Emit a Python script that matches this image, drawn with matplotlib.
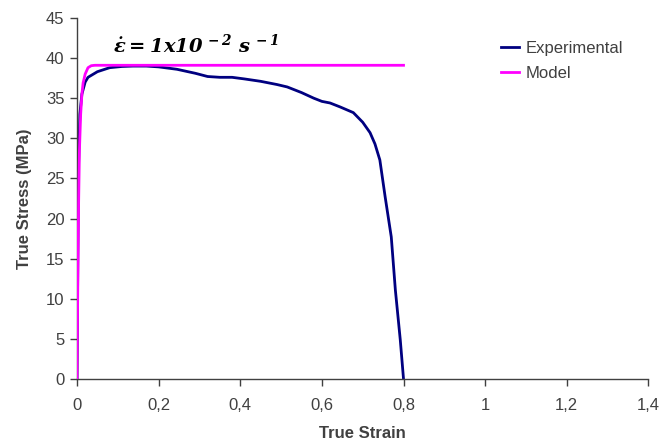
import matplotlib
matplotlib.use("Agg")
import matplotlib.pyplot as plt

plt.rcParams['font.family'] = ['Liberation Sans', 'DejaVu Sans']
plt.rcParams['mathtext.fontset'] = 'custom'
plt.rcParams['mathtext.rm'] = 'DejaVu Serif:italic:bold'
plt.rcParams['mathtext.it'] = 'DejaVu Serif:italic:bold'
plt.rcParams['mathtext.bf'] = 'DejaVu Serif:italic:bold'

exp_strain = [0.0, 0.002, 0.004, 0.007, 0.012, 0.02, 0.027, 0.05, 0.08, 0.11, 0.137,
              0.17, 0.2, 0.245, 0.29, 0.32, 0.35, 0.38, 0.41, 0.45, 0.49, 0.515,
              0.55, 0.58, 0.60, 0.62, 0.645, 0.677, 0.70, 0.718, 0.73, 0.742, 0.755,
              0.77, 0.78, 0.792, 0.80]
exp_stress = [0.0, 15.0, 27.0, 33.0, 35.5, 37.0, 37.6, 38.3, 38.8, 38.95, 39.0,
              39.0, 38.9, 38.6, 38.1, 37.7, 37.6, 37.6, 37.4, 37.1, 36.7, 36.4,
              35.7, 35.0, 34.6, 34.4, 33.9, 33.2, 32.0, 30.7, 29.3, 27.3, 22.7,
              17.7, 11.1, 4.9, 0.0]

mod_strain = [0.0, 0.002, 0.004, 0.006, 0.009, 0.012, 0.015, 0.02, 0.027, 0.035,
              0.044, 0.06, 0.1, 0.2, 0.4, 0.6, 0.8]
mod_stress = [0.0, 12.0, 22.0, 28.5, 33.0, 35.5, 36.9, 38.0, 38.8, 39.05,
              39.1, 39.1, 39.1, 39.1, 39.1, 39.1, 39.1]

xticks = [0, 0.2, 0.4, 0.6, 0.8, 1.0, 1.2, 1.4]
xtick_labels = ['0', '0,2', '0,4', '0,6', '0,8', '1', '1,2', '1,4']
yticks = [0, 5, 10, 15, 20, 25, 30, 35, 40, 45]

fig = plt.figure(figsize=(6.66, 4.43), dpi=100)
ax = fig.add_axes([0.1156, 0.1445, 0.858, 0.815])

ax.plot(exp_strain, exp_stress, color='#000080', lw=2, label='Experimental', zorder=2)
ax.plot(mod_strain, mod_stress, color='#FF00FF', lw=2, label='Model', zorder=3)

ax.set_xlim(0, 1.4)
ax.set_ylim(0, 45)
ax.set_xticks(xticks)
ax.set_xticklabels(xtick_labels)
ax.set_yticks(yticks)

gray = '#404040'
for s in ['top', 'right']:
    ax.spines[s].set_visible(False)
for s in ['left', 'bottom']:
    ax.spines[s].set_color(gray)
    ax.spines[s].set_linewidth(1.0)
ax.tick_params(axis='both', colors=gray, labelcolor='#404040', labelsize=12,
               length=5, width=1, direction='out')
ax.tick_params(axis='x', pad=9)
ax.tick_params(axis='y', pad=4)

ax.set_xlabel('True Strain', fontsize=12, fontweight='bold', color='#404040', labelpad=9)
ax.set_ylabel('True Stress (MPa)', fontsize=12, fontweight='bold', color='#404040', labelpad=10)

ax.text(0.088, 41.6, r'$\dot{\epsilon}=1x10^{\,-2}\ s^{\,-1}$', fontsize=14,
        color='black', ha='left', va='center')

leg = ax.legend(loc='upper left', bbox_to_anchor=(0.715, 0.978), frameon=False,
                fontsize=12, handlelength=1.1, handletextpad=0.4, labelspacing=0.6)
for t in leg.get_texts():
    t.set_color('#404040')

fig.savefig('out.png', dpi=100)
